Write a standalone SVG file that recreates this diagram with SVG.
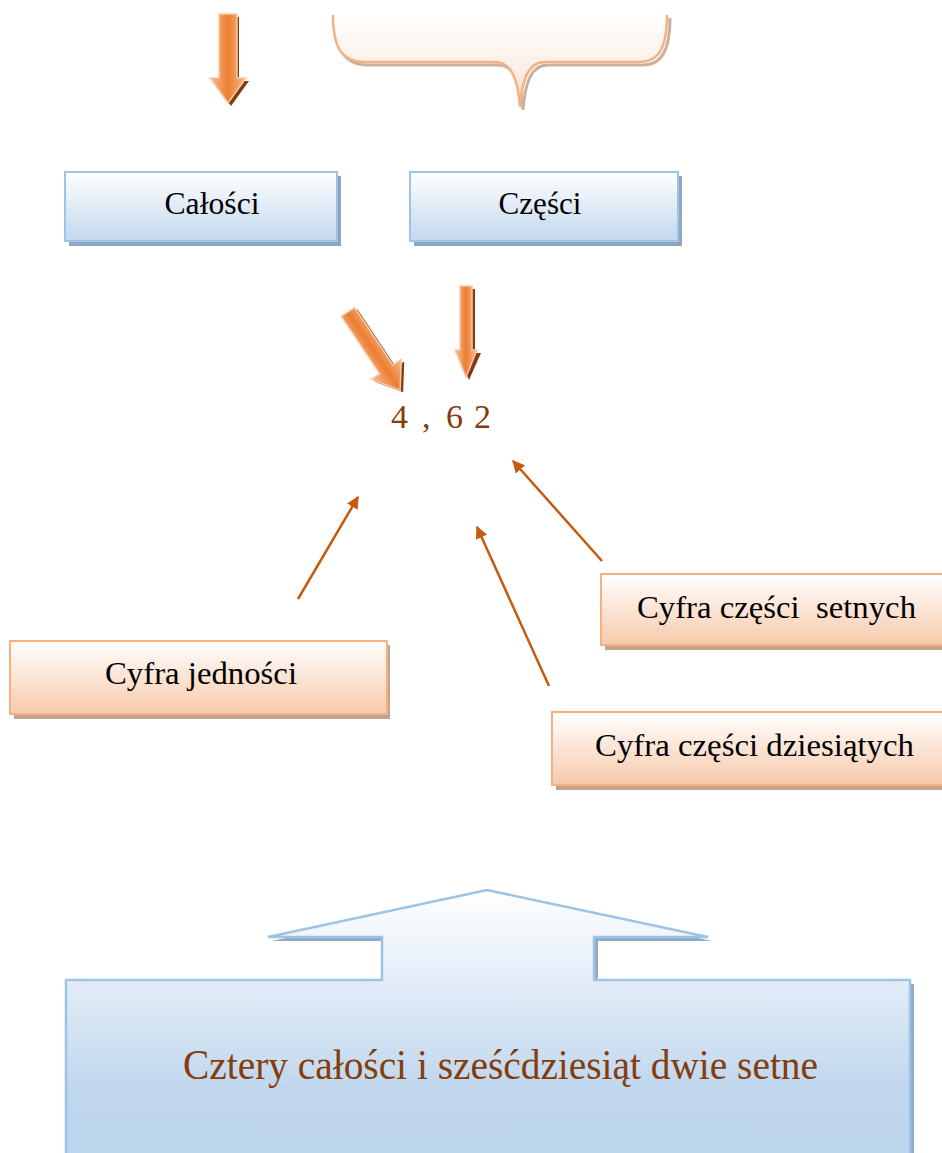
<svg xmlns="http://www.w3.org/2000/svg" width="942" height="1153" viewBox="0 0 942 1153">
<style>
.lbl{font-family:"Liberation Serif","DejaVu Serif",serif;fill:#000;white-space:pre}
.brn{font-family:"Liberation Serif","DejaVu Serif",serif;fill:#843c0c;white-space:pre}
.bbox{fill:url(#gBlue);stroke:#9dc3e6;stroke-width:2}
.bsh{fill:#8fa6bf}
.sbox{fill:url(#gSal);stroke:#f4b183;stroke-width:2}
.ssh{fill:#c4a38c}
.fat{fill:url(#gOr);stroke:#f8cbad;stroke-width:1.5}
.fatsh{fill:#843c0c}
.thin{stroke:#c55a11;stroke-width:2.5;fill:none;marker-end:url(#ah)}
</style>
<defs>
<linearGradient id="gBlue" x1="0" y1="0" x2="0" y2="1">
<stop offset="0" stop-color="#ffffff"/><stop offset="1" stop-color="#c2d7ee"/>
</linearGradient>
<linearGradient id="gBig" x1="0" y1="0" x2="0" y2="1">
<stop offset="0" stop-color="#ffffff"/><stop offset="0.75" stop-color="#bfd6ee"/><stop offset="1" stop-color="#bcd4ec"/>
</linearGradient>
<linearGradient id="gSal" x1="0" y1="0" x2="0" y2="1">
<stop offset="0" stop-color="#ffffff"/><stop offset="1" stop-color="#f7c9aa"/>
</linearGradient>
<linearGradient id="gBrace" x1="0" y1="0" x2="0" y2="1">
<stop offset="0" stop-color="#ffffff"/><stop offset="0.6" stop-color="#fbeee6"/><stop offset="1" stop-color="#f9d2bb"/>
</linearGradient>
<linearGradient id="gOr" x1="0" y1="0" x2="1" y2="0">
<stop offset="0" stop-color="#f7bd96"/><stop offset="0.5" stop-color="#ed7d31"/><stop offset="1" stop-color="#f7bd96"/>
</linearGradient>
<marker id="ah" viewBox="0 0 10 10" refX="9" refY="5" markerWidth="5" markerHeight="5" orient="auto" markerUnits="strokeWidth">
<path d="M0,0 L10,5 L0,10 Z" fill="#c55a11"/>
</marker>
</defs>

<g id="arrow-top">
<path class="fatsh" d="M-8,0 L8,0 L8,64 L18,64 L0,89 L-18,64 L-8,64 Z" transform="translate(231,17)"/>
<path class="fat" d="M-9,0 L9,0 L9,64 L18,64 L0,89 L-18,64 L-9,64 Z" transform="translate(228,14)"/>
</g>

<g id="brace">
<path d="M336,18 C336,48 343,65 368,65 L498,65 C515,65 521,83 523,110 C525,83 531,65 548,65 L643,65 C663,65 670,48 670,18" fill="none" stroke="#cbb09c" stroke-width="3"/>
<path d="M333,15 C333,45 340,62 365,62 L495,62 C512,62 518,80 520,107 C522,80 528,62 545,62 L640,62 C660,62 667,45 667,15 Z" fill="url(#gBrace)"/>
<path d="M333,15 C333,45 340,62 365,62 L495,62 C512,62 518,80 520,107 C522,80 528,62 545,62 L640,62 C660,62 667,45 667,15" fill="none" stroke="#f4b183" stroke-width="2.5"/>
</g>

<g id="calosci">
<rect class="bsh" x="69" y="176" width="272" height="70"/>
<rect class="bbox" x="65" y="172" width="272" height="69"/>
<text class="lbl" x="212" y="214" font-size="31" text-anchor="middle" textLength="95" lengthAdjust="spacingAndGlyphs">Całości</text>
</g>

<g id="czesci">
<rect class="bsh" x="414" y="176" width="268" height="70"/>
<rect class="bbox" x="410" y="172" width="268" height="69"/>
<text class="lbl" x="540" y="214" font-size="31" text-anchor="middle" textLength="83" lengthAdjust="spacingAndGlyphs">Części</text>
</g>

<g id="arrow-diag">
<path class="fatsh" d="M-8,0 L8,0 L8,69 L18,69 L0,94 L-18,69 L-8,69 Z" transform="translate(351,314) rotate(-33.7)"/>
<path class="fat" d="M-8,0 L8,0 L8,69 L18,69 L0,94 L-18,69 L-8,69 Z" transform="translate(348,312) rotate(-33.7)"/>
</g>

<g id="arrow-mid">
<path class="fatsh" d="M-6,0 L6,0 L6,64 L12,64 L0,91 L-12,64 L-6,64 Z" transform="translate(469,289)"/>
<path class="fat" d="M-6,0 L6,0 L6,64 L11,64 L0,91 L-11,64 L-6,64 Z" transform="translate(466,286)"/>
</g>

<g id="number">
<text class="brn" font-size="34" y="428"><tspan x="391">4</tspan><tspan x="422">,</tspan><tspan x="446">6</tspan><tspan x="474">2</tspan></text>
</g>

<g id="connectors">
<line class="thin" x1="298" y1="599" x2="358" y2="497"/>
<line class="thin" x1="602" y1="561" x2="513" y2="461"/>
<line class="thin" x1="549" y1="686" x2="477" y2="527"/>
</g>

<g id="jednosci">
<rect class="ssh" x="14" y="645" width="376" height="74"/>
<rect class="sbox" x="10" y="641" width="377" height="73"/>
<text class="lbl" x="201" y="684" font-size="31" text-anchor="middle" textLength="192" lengthAdjust="spacingAndGlyphs">Cyfra jedności</text>
</g>

<g id="setnych">
<rect class="ssh" x="605" y="578" width="345" height="72"/>
<rect class="sbox" x="601" y="574" width="345" height="71"/>
<text class="lbl" x="637" y="618" font-size="31" textLength="279" lengthAdjust="spacingAndGlyphs">Cyfra części  setnych</text>
</g>

<g id="dziesiatych">
<rect class="ssh" x="556" y="716" width="394" height="74"/>
<rect class="sbox" x="552" y="712" width="394" height="73"/>
<text class="lbl" x="595" y="756" font-size="31" textLength="319" lengthAdjust="spacingAndGlyphs">Cyfra części dziesiątych</text>
</g>

<g id="callout">
<path d="M70,984 L386,984 L386,941 L272,941 L491,894 L712,941 L598,941 L598,984 L914,984 L914,1164 L70,1164 Z" fill="#8fa9c6"/>
<path d="M66,980 L382,980 L382,937 L268,937 L487,890 L708,937 L594,937 L594,980 L910,980 L910,1160 L66,1160 Z" fill="url(#gBig)" stroke="#9dc3e6" stroke-width="2.5"/>
<text class="brn" x="183" y="1079" font-size="42" textLength="635" lengthAdjust="spacingAndGlyphs">Cztery całości i sześćdziesiąt dwie setne</text>
</g>
</svg>
